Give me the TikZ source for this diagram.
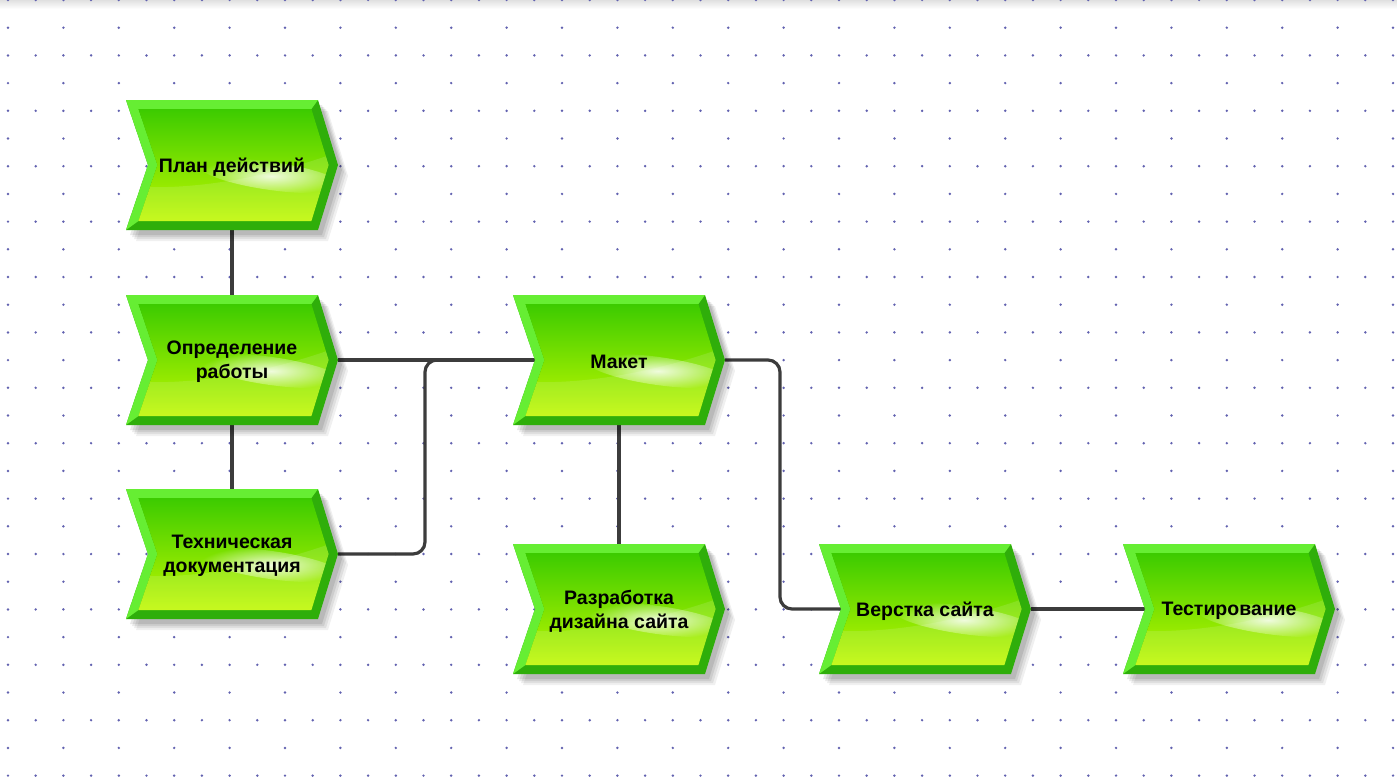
\documentclass[tikz,border=0pt]{standalone}
\usepackage{fontspec}
\setmainfont{Liberation Sans}
\usetikzlibrary{fadings}
\definecolor{dotc}{HTML}{6262B0}
\definecolor{framedark}{HTML}{2FAE0A}
\definecolor{framelight}{HTML}{66EE33}
\definecolor{facetop}{HTML}{3CCB00}
\definecolor{facemid}{HTML}{74DD00}
\definecolor{facebot}{HTML}{C0F800}
\definecolor{linec}{HTML}{3C3C3C}
\tikzfading[name=glowfade, inner color=transparent!15, outer color=transparent!100]
\pgfdeclarelayer{back}
\pgfdeclarelayer{conns}
\pgfsetlayers{back,conns,main}
\tikzset{
  lbl/.style={font=\bfseries\fontsize{19.5}{24}\selectfont, align=center, inner sep=0pt, text=black},
  conn/.style={draw=linec, line width=3.2pt, rounded corners=12pt},
  gdot/.style={fill=dotc},
}
\newcommand\chevshape[4]{%
  \begin{scope}[shift={(#2,#3)}]
    \foreach \k/\o in {0/0.09,1/0.08,2/0.07,3/0.06}{
      \begin{scope}[shift={(4+\k*2,5+\k*2)}]
        \fill[black, opacity=\o] (0,0)--(192,0)--(212,65)--(192,130)--(0,130)--(22,65)--cycle;
      \end{scope}
    }
    \fill[framedark] (0,0)--(192,0)--(212,65)--(192,130)--(0,130)--(22,65)--cycle;
    \fill[framelight] (0,0)--(192,0)--(185.4,9)--(12.45,9)--(31.4,65)--(12.45,121)--(0,130)--(22,65)--cycle;
    \shade[top color=facetop, middle color=facemid, bottom color=facebot]
      (12.45,9)--(185.4,9)--(202.6,65)--(185.4,121)--(12.45,121)--(31.4,65)--cycle;
    \begin{scope}
      \clip (12.45,9)--(185.4,9)--(202.6,65)--(185.4,121)--(12.45,121)--(31.4,65)--cycle;
      \fill[white, opacity=0.12] (0,86) .. controls (70,92) and (150,75) .. (212,52) -- (212,130) -- (0,130) -- cycle;
      \fill[white, path fading=glowfade, rotate around={-8:(145,76)}] (145,76) ellipse [x radius=72, y radius=14];
    \end{scope}
    \node[lbl] (#1) at (106,67) {#4};
    \coordinate (#1-in) at (22,65);
    \coordinate (#1-out) at (212,65);
    \coordinate (#1-top) at (106,0);
    \coordinate (#1-bot) at (106,130);
  \end{scope}}
\begin{document}
\begin{tikzpicture}[x=1pt, y=-1pt]
\useasboundingbox (0,0) rectangle (1397,777);
\begin{pgfonlayer}{back}
  \fill[white] (0,0) rectangle (1397,777);
  \shade[top color=black!12, bottom color=white] (0,0) rectangle (1397,9);
  \foreach \j in {0,2,...,28}{
    \foreach \i in {0,...,50}{
      \fill[gdot] (8+\i*27.7, \j*27.7) circle[radius=1.35];
    }
  }
  \foreach \j in {1,3,...,27}{
    \foreach \i in {0,2,...,50}{
      \fill[gdot] (8+\i*27.7, \j*27.7) circle[radius=1.35];
    }
  }
\end{pgfonlayer}

\chevshape{plan}{126}{100}{План действий}
\chevshape{opr}{126}{295}{Определение\\работы}
\chevshape{tech}{126}{489}{Техническая\\документация}
\chevshape{maket}{513}{295}{Макет}
\chevshape{razr}{513}{544}{Разработка\\дизайна сайта}
\chevshape{verst}{819}{544}{Верстка сайта}
\chevshape{test}{1123}{544}{Тестирование}

\coordinate (j1) at ([xshift=-110pt]maket-in);
\coordinate (j2) at ([xshift=55pt]maket-out);

\begin{pgfonlayer}{conns}
  \draw[conn] (plan-bot) -- (opr-top);
  \draw[conn] (opr-bot) -- (tech-top);
  \draw[conn] (opr-out) -- (maket-in);
  \draw[conn] (tech-out) -| (j1) -- (maket-in);
  \draw[conn] (maket-bot) -- (razr-top);
  \draw[conn] (maket-out) -- (j2) |- (verst-in);
  \draw[conn] (verst-out) -- (test-in);
\end{pgfonlayer}
\end{tikzpicture}
\end{document}
